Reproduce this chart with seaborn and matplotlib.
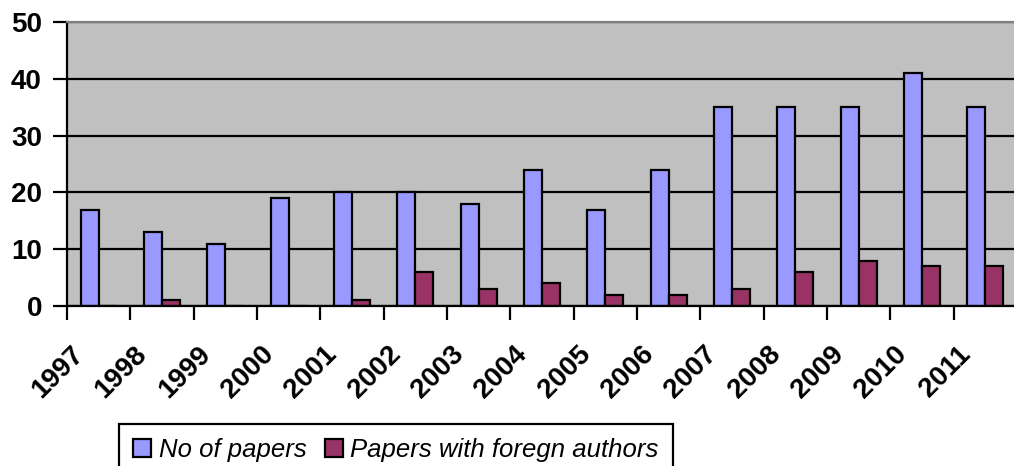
from matplotlib import pyplot as plt
from matplotlib.ticker import MultipleLocator
from matplotlib.transforms import ScaledTranslation
import pandas as pd
import seaborn as sns

# chart data
years = ["1997", "1998", "1999", "2000", "2001", "2002", "2003", "2004",
         "2005", "2006", "2007", "2008", "2009", "2010", "2011"]
no_of_papers = [17, 13, 11, 19, 20, 20, 18, 24, 17, 24, 35, 35, 35, 41, 35]
foreign_papers = [0, 1, 0, 0, 1, 6, 3, 4, 2, 2, 3, 6, 8, 7, 7]
series_names = ["No of papers", "Papers with foregn authors"]

df = pd.DataFrame({"Year": years * 2,
                   "Value": no_of_papers + foreign_papers,
                   "Series": [series_names[0]] * len(years) + [series_names[1]] * len(years)})

sns.set_style("white")
plt.rcParams["font.family"] = ["Liberation Sans", "DejaVu Sans"]
plt.rcParams["text.color"] = "black"
plt.rcParams["xtick.color"] = "black"
plt.rcParams["ytick.color"] = "black"

fig = plt.figure(figsize=(10.14, 4.66), dpi=100)
ax = fig.add_axes([0.066, 0.343, 0.937, 0.61])
ax.set_facecolor("#C0C0C0")

sns.barplot(data=df, x="Year", y="Value", hue="Series", ax=ax,
            palette=["#9999FF", "#993366"], width=0.567, gap=0,
            edgecolor="black", linewidth=1.6, saturation=1, legend=False)

ax.set_ylim(0, 50)
ax.set_xlim(-0.5, 14.5)
ax.yaxis.set_major_locator(MultipleLocator(10))
ax.grid(axis="y", color="black", linewidth=1.6)
ax.set_axisbelow(True)

ax.set_xlabel("")
ax.set_ylabel("")

ax.spines["right"].set_visible(False)
ax.spines["top"].set_color("#808080")
ax.spines["top"].set_linewidth(1.6)
for s in ["left", "bottom"]:
    ax.spines[s].set_color("black")
    ax.spines[s].set_linewidth(1.6)

# year labels centred, tick marks between categories
ax.set_xticks(range(len(years)))
ax.set_xticklabels(years, rotation=45, ha="right", rotation_mode="anchor",
                   fontsize=20, fontweight="bold")
ax.set_xticks([i - 0.5 for i in range(len(years) + 1)], minor=True)
ax.tick_params(axis="x", which="major", length=0, pad=25)
ax.tick_params(axis="x", which="minor", length=10, width=1.6, color="black",
               direction="out", bottom=True)
shift = ScaledTranslation(-28 / 100, 0, fig.dpi_scale_trans)
for lab in ax.get_xticklabels():
    lab.set_transform(lab.get_transform() + shift)

ax.tick_params(axis="y", length=10, width=1.6, color="black", direction="out",
               left=True, labelsize=20, pad=8)
for lab in ax.get_yticklabels():
    lab.set_fontweight("bold")

handles = [plt.Rectangle((0, 0), 1, 1, facecolor=c, edgecolor="black", linewidth=1.6)
           for c in ["#9999FF", "#993366"]]
leg = fig.legend(handles, series_names, loc="upper left",
                 bbox_to_anchor=(119 / 1014, 1 - 424 / 466),
                 ncol=2, frameon=True, fancybox=False, framealpha=1,
                 edgecolor="black", prop={"style": "italic", "size": 18.5},
                 handlelength=0.7, handleheight=0.7, handletextpad=0.3,
                 columnspacing=0.7, borderpad=0.55, borderaxespad=0)
leg.get_frame().set_linewidth(1.6)

fig.savefig("out.png", dpi=100)
